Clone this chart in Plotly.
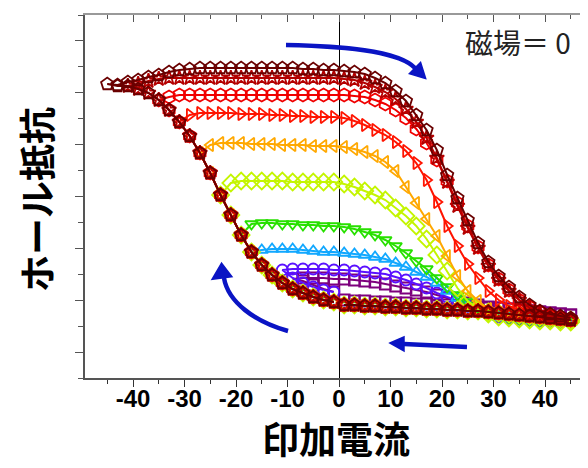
import plotly.graph_objects as go

# ---------------- data (arbitrary units) ----------------
X_SWEEP = [-45, -43, -41, -39, -37, -35, -33, -31, -29, -27, -25, -23, -21, -19, -17, -15,
           -13, -11, -9, -7, -5, -3, -1, 1, 3, 5, 7, 9, 11, 13, 15, 17, 19, 21, 23, 25,
           27, 29, 31, 33, 35, 37, 39, 41, 43, 45]
X_RETURN_RIGHT = [45, 43, 41, 39, 37, 35, 33, 31, 29, 27, 25, 23, 21, 19, 17, 15, 13, 11,
                  9, 7, 5, 3, 1]
X_RETURN_LEFT = [-1, -3, -5, -7, -9, -11, -13, -15, -17, -19, -21, -23, -25, -27, -29, -31,
                 -33, -35, -37, -39, -41, -43, -45]

# common return branch (sweep from +45 down to negative currents)
RET_RIGHT = [58, 59, 60, 61, 62, 63, 64, 65, 66, 67, 67, 68, 68, 69, 69, 70, 70, 71, 71, 72,
             72, 73, 73]
RET_LEFT = [76, 78, 81, 85, 89, 95, 103, 113, 126, 143, 163, 183, 205, 225, 242, 256, 268,
            278, 285, 289, 292, 292, 294]
RET_RIGHT_PURPLE = [63, 64, 65, 66, 67, 68, 69, 70, 70, 71, 72, 72, 73, 73, 74, 74, 75, 75,
                    76, 76, 77, 77, 78]
RET_LEFT_VIOLET = [86, 88, 91, 95, 100]
RET_LEFT_PURPLE = [86, 89, 93, 97]

# upward sweeps, from -Imax to +45
IMAX = [9, 11, 17, 19, 23, 27, 31, 35, 41, 45]
UP_PURPLE = [99, 100, 100, 100, 99, 99, 98, 97, 96, 94, 92, 90, 88, 86, 83, 80, 77, 75, 73,
             71, 70, 69, 68, 67, 66, 65, 64, 63]
UP_VIOLET = [108, 109, 109, 109, 109, 108, 108, 107, 106, 105, 104, 101, 98, 94, 90, 85, 81,
             77, 72, 68, 64, 61, 60, 59, 58, 57, 57, 56, 56]
UP_BLUE = [126, 128, 129, 129, 129, 128, 127, 126, 126, 125, 124, 123, 121, 119, 115, 111,
           106, 101, 95, 87, 80, 73, 68, 64, 61, 60, 59, 58, 57, 57, 56, 56]
UP_GREEN = [143, 154, 155, 155, 154, 154, 153, 153, 152, 152, 151, 149, 146, 143, 138, 132,
            125, 117, 109, 100, 91, 83, 76, 70, 65, 62, 60, 59, 58, 57, 57, 56, 56]
UP_YELLOWGREEN = [183, 195, 197, 197, 197, 197, 197, 196, 196, 196, 196, 196, 194, 191, 187,
                  183, 178, 170, 162, 152, 139, 123, 107, 90, 77, 69, 64, 61, 60, 59, 58, 57,
                  57, 56, 56]
UP_ORANGE = [225, 233, 235, 235, 235, 234, 234, 234, 233, 233, 233, 232, 232, 232, 231, 229,
             226, 222, 216, 207, 191, 175, 159, 142, 122, 102, 87, 77, 69, 65, 63, 62, 61, 60,
             59, 58, 58]
UP_RED_TRI = [256, 263, 265, 265, 265, 265, 264, 264, 264, 263, 263, 262, 262, 261, 261, 261,
              260, 257, 253, 248, 243, 236, 227, 215, 198, 176, 152, 132, 114, 100, 87, 78,
              72, 68, 65, 63, 61, 60, 58]
UP_RED_HEX = [278, 281, 283, 283, 283, 283, 283, 283, 283, 283, 283, 283, 283, 283, 283, 283,
              283, 283, 283, 282, 281, 278, 274, 268, 260, 249, 235, 218, 197, 175, 152, 131,
              113, 99, 88, 78, 71, 66, 62, 60, 58]
UP_DARKRED = [292, 294, 297, 299, 300, 300, 300, 300, 300, 300, 300, 300, 300, 300, 300, 300,
              300, 300, 300, 300, 300, 299, 298, 295, 291, 286, 279, 269, 256, 240, 220, 196,
              172, 150, 130, 112, 98, 87, 78, 70, 65, 62, 60, 58]
UP_MAROON = [294, 293, 296, 298, 301, 303, 306, 308, 309, 310, 310, 310, 310, 310, 310, 310,
             310, 310, 310, 309, 309, 308, 308, 307, 306, 304, 300, 295, 287, 277, 263, 248,
             228, 203, 180, 158, 135, 116, 102, 91, 81, 73, 67, 64, 62, 60]

COLORS = ["#7d007d", "#5a10ff", "#12a8ff", "#28e000", "#c4f500", "#ffa800", "#ff1400",
          "#f00000", "#b40000", "#6a0000"]
SYMBOLS = ["square-open", "circle-open", "triangle-up-open", "triangle-down-open",
           "diamond-open", "triangle-left-open", "triangle-right-open", "hexagon-open",
           "star-open", "pentagon-open"]

UPS = [UP_PURPLE, UP_VIOLET, UP_BLUE, UP_GREEN, UP_YELLOWGREEN, UP_ORANGE, UP_RED_TRI,
       UP_RED_HEX, UP_DARKRED, UP_MAROON]
RETS_R = [RET_RIGHT_PURPLE] + [RET_RIGHT] * 9
RETS_L = [RET_LEFT_PURPLE, RET_LEFT_VIOLET] + [RET_LEFT] * 8

fig = go.Figure()

for k in range(len(IMAX)):
    imax = IMAX[k]
    up_x = [x for x in X_SWEEP if x >= -imax]
    left_x = [x for x in X_RETURN_LEFT if -x < imax]
    left_y = RETS_L[k][:len(left_x)]
    xs = X_RETURN_RIGHT + [None] + left_x + up_x
    ys = RETS_R[k] + [None] + left_y + UPS[k]
    size = 13 if SYMBOLS[k] in ("pentagon-open", "diamond-open", "hexagon-open") else 11
    fig.add_trace(go.Scatter(
        x=xs, y=ys, mode="lines+markers", connectgaps=False, showlegend=False,
        line=dict(color=COLORS[k], width=2),
        marker=dict(symbol=SYMBOLS[k], size=size, color=COLORS[k],
                    line=dict(color=COLORS[k], width=1.8)),
        hoverinfo="skip"))

# phantom trace for the mirrored axes
fig.add_trace(go.Scatter(x=[0], y=[0], xaxis="x2", yaxis="y2", mode="markers",
                         marker=dict(opacity=0), showlegend=False, hoverinfo="skip"))

U = 363 / 14.0
# page has an 8px body margin: figure 580x460 placed at (8,8)
fig.update_layout(
    width=580, height=460,
    margin=dict(l=77, r=0, t=7, b=90),
    paper_bgcolor="white", plot_bgcolor="white",
    xaxis=dict(range=[-49.32, 48.35], tickvals=[-40, -30, -20, -10, 0, 10, 20, 30, 40],
               ticktext=["-40", "-30", "-20", "-10", "0", "10", "20", "30", "40"],
               ticks="outside", ticklen=7, tickwidth=1, tickcolor="#333",
               ticklabelstandoff=-9,
               minor=dict(dtick=5, ticks="outside", ticklen=4, tickcolor="#333"),
               showline=True, linecolor="#555", linewidth=1.5, showgrid=False,
               zeroline=True, zerolinecolor="#000", zerolinewidth=1,
               tickfont=dict(family="Liberation Sans", size=24, color="#000", weight="bold")),
    xaxis2=dict(overlaying="x", matches="x", side="top", range=[-49.32, 48.35],
                dtick=10, tick0=0, ticks="inside", ticklen=7, tickcolor="#555",
                minor=dict(dtick=5, ticks="inside", ticklen=4, tickcolor="#555"),
                showticklabels=False, showline=True, linecolor="#999", linewidth=1.5,
                showgrid=False, zeroline=False),
    yaxis=dict(range=[0, 363], tick0=U, dtick=2 * U, ticks="outside", ticklen=8,
               tickcolor="#555", showticklabels=False,
               minor=dict(dtick=U, ticks="outside", ticklen=5, tickcolor="#555"),
               showline=True, linecolor="#555", linewidth=1.5, showgrid=False,
               zeroline=False),
    yaxis2=dict(overlaying="y", matches="y", side="right", range=[0, 363], tick0=U,
                dtick=2 * U, ticks="inside", ticklen=5, tickcolor="#555",
                showticklabels=False, showline=True, linecolor="#999", showgrid=False,
                zeroline=False),
)

# text (positions given relative to the plot area: x from page 85..588, y from page 15..378)
fig.add_annotation(text="印加電流", xref="paper", yref="paper", x=(336 - 85) / 503,
                   y=-(467 - 378) / 363, showarrow=False, xanchor="center", yanchor="bottom",
                   font=dict(family="Noto Sans CJK JP", size=37, color="#000", weight="bold"))
fig.add_annotation(text="ホール抵抗", xref="paper", yref="paper", x=-(85 - 36) / 503,
                   y=(378 - 200) / 363, showarrow=False, textangle=-90, xanchor="center",
                   yanchor="middle",
                   font=dict(family="Noto Sans CJK JP", size=37, color="#000", weight="bold"))
fig.add_annotation(text="磁場＝ 0", xref="paper", yref="paper", x=(518 - 85) / 503,
                   y=(378 - 42) / 363, showarrow=False, xanchor="center", yanchor="middle",
                   font=dict(family="Noto Sans CJK JP", size=28, color="#222"))

# blue arrows
BLUE = "#0a14c4"
arrow_paths = [
    "M -10.29,333 C 0.19,332 11.46,328 14.76,310",
    "M -9.90,47 C -16.31,56 -21.55,76 -22.33,100",
    "M 24.85,31 L 12.62,34",
]
head_paths = [
    "M 16.82,299.5 L 13.67,304.3 L 15.84,315.7 Z",
    "M -22.80,114.8 L -20.80,101.3 L -24.64,98.7 Z",
    "M 9.90,35 L 12.62,41 L 12.62,27 Z",
]
for p in arrow_paths:
    fig.add_shape(type="path", path=p, xref="x", yref="y",
                  line=dict(color=BLUE, width=4.5))
for p in head_paths:
    fig.add_shape(type="path", path=p, xref="x", yref="y", fillcolor=BLUE,
                  line=dict(color=BLUE, width=1.5))

fig.write_html("out.html")
